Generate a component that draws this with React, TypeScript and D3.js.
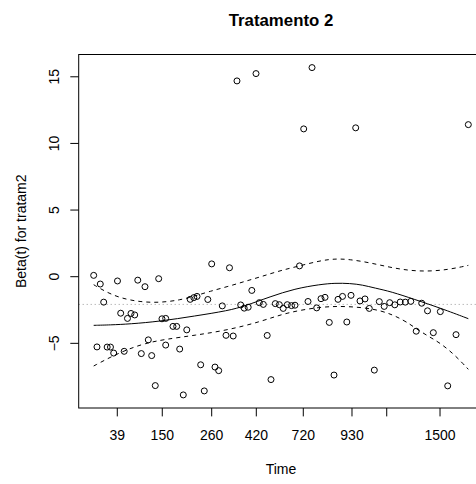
import React from "react";
import * as d3 from "d3";

// Transformed (KM-scale) time, 0..100, and scaled Schoenfeld residuals
const pointT = [
  0, 1.76, 2.67, 6.35, 11.77, 13.69, 17.35,
  0.88, 3.6, 4.48, 5.34, 8.14,
  7.21, 9.02, 9.96, 10.95,
  12.71, 15.48, 14.58, 16.44,
  18.23, 19.22, 19.22, 21.17, 22.16, 22.96, 24.85, 23.92,
  25.76, 26.72, 27.58, 28.56, 29.52, 30.46, 31.5, 32.38, 33.37,
  34.33, 35.32, 36.25, 37.24, 39.24, 40.18, 41.24, 42.21, 44.21, 45.28, 46.32, 47.33,
  48.48, 49.55, 50.59, 51.68, 52.8, 53.74, 54.94,
  56.06, 57.21, 59.53, 60.68, 61.75, 62.89, 64.15, 65.22, 66.42, 67.57, 68.69,
  71.09, 72.42, 73.57, 74.91, 76.24, 77.55, 79.02, 80.38, 81.82, 83.18, 84.65,
  86.09, 87.56, 89.11, 90.66, 92.53, 94.5, 96.72, 100,
  38.25, 43.33, 58.28, 69.94,
];
const pointBeta = [
  0.1, -0.55, -1.91, -0.32, -0.26, -0.75, -0.15,
  -5.27, -5.28, -5.28, -5.73, -5.6,
  -2.74, -3.13, -2.76, -2.87,
  -5.77, -5.92, -4.74, -8.17,
  -3.16, -3.13, -5.13, -3.73, -3.73, -5.43, -3.99, -8.87,
  -1.7, -1.57, -1.48, -6.61, -8.57, -1.71, 0.96, -6.78, -7.05,
  -2.19, -4.4, 0.67, -4.45, -2.12, -2.36, -2.29, -1.03, -1.95, -2.08, -4.41, -7.72,
  -2.02, -2.1, -2.38, -2.1, -2.17, -2.14, 0.81,
  11.09, -1.86, -2.34, -1.65, -1.55, -3.43, -7.38, -1.7, -1.48, -3.4, -1.4,
  -1.82, -1.67, -2.38, -7.01, -1.87, -2.23, -1.95, -2.11, -1.9, -1.91, -1.85,
  -4.09, -1.99, -2.56, -4.2, -2.62, -8.19, -4.35, 11.41,
  14.69, 15.24, 15.69, 11.17,
];

// Smoothed beta(t) fit
const fitT = [0, 4.35, 9.7, 17.7, 27.0, 35.9, 40.4, 47.1, 53.7, 60.4, 64.4, 68.4, 71.8, 75.0, 79.4, 85.6, 92.5, 100];
const fitBeta = [-3.65, -3.62, -3.55, -3.35, -2.95, -2.55, -2.2, -1.5, -0.9, -0.58, -0.48, -0.5, -0.62, -0.85, -1.12, -1.7, -2.35, -3.15];

const upperT = [0, 3.0, 7.0, 12.4, 17.7, 23.1, 27.0, 31.0, 35.9, 40.4, 44.9, 49.7, 54.8, 60.4, 64.4, 68.4, 73.7, 79.1, 84.4, 89.8, 95.1, 100];
const upperBeta = [-0.6, -1.1, -1.6, -1.9, -1.95, -1.75, -1.45, -1.1, -0.73, -0.35, 0.02, 0.45, 0.8, 1.2, 1.35, 1.3, 1.05, 0.7, 0.45, 0.4, 0.55, 0.85];

const lowerT = [0, 4.35, 8.9, 13.7, 19.0, 27.0, 35.9, 44.9, 51.1, 60.4, 67.9, 76.9, 83.1, 85.8, 89.3, 92.5, 96.5, 100];
const lowerBeta = [-6.7, -6.05, -5.47, -5.0, -4.7, -4.4, -4.0, -3.35, -2.72, -2.25, -2.2, -2.47, -3.3, -3.85, -4.47, -4.97, -5.9, -6.95];

const coef = -2.08;

const xTickT = [6.3, 18.31, 31.5, 43.41, 55.95, 68.95, 78.22, 92.45];
const xTickLabels = ["39", "150", "260", "420", "720", "930", "", "1500"];
const yTicks = [-5, 0, 5, 10, 15];

const title = "Tratamento 2";
const xTitle = "Time";
const yTitle = "Beta(t) for tratam2";

const W = 476;
const H = 484;
const plot = { left: 78.7, right: 483.3, top: 54.5, bottom: 408 };
const FONT = "'Liberation Sans', Arial, Helvetica, sans-serif";

function expand(ext: [number, number]): [number, number] {
  const d = (ext[1] - ext[0]) * 0.04;
  return [ext[0] - d, ext[1] + d];
}

export default function App() {
  const allT = [...pointT, ...fitT, ...upperT, ...lowerT];
  const allB = [...pointBeta, ...fitBeta, ...upperBeta, ...lowerBeta];
  const x = d3.scaleLinear().domain(expand(d3.extent(allT) as [number, number])).range([plot.left, plot.right]);
  const y = d3.scaleLinear().domain(expand(d3.extent(allB) as [number, number])).range([plot.bottom, plot.top]);

  const mk = (ts: number[], bs: number[]) =>
    d3
      .line<number>()
      .x((i) => x(ts[i]))
      .y((i) => y(bs[i]))
      .curve(d3.curveBasis)(d3.range(Math.min(ts.length, bs.length))) || "";

  const n = Math.min(pointT.length, pointBeta.length);
  const tick = 8.4;
  const cx = (plot.left + plot.right) / 2;
  const cy = (plot.top + plot.bottom) / 2;

  return (
    <svg width={W} height={H} style={{ position: "absolute", left: 0, top: 0, background: "#fff" }} fontFamily={FONT}>
      <rect x={0} y={0} width={W} height={H} fill="#fff" />
      <text x={cx} y={26} textAnchor="middle" fontSize={16.8} fontWeight="bold">{title}</text>

      {/* coefficient line */}
      <line x1={plot.left} x2={plot.right} y1={y(coef)} y2={y(coef)} stroke="#9a9a9a" strokeDasharray="1,3" />

      {/* fit and bands */}
      <path d={mk(fitT, fitBeta)} fill="none" stroke="#000" strokeWidth={1} />
      <path d={mk(upperT, upperBeta)} fill="none" stroke="#000" strokeWidth={1} strokeDasharray="4,4" />
      <path d={mk(lowerT, lowerBeta)} fill="none" stroke="#000" strokeWidth={1} strokeDasharray="4,4" />

      {/* points */}
      {d3.range(n).map((i) => (
        <circle key={i} cx={x(pointT[i])} cy={y(pointBeta[i])} r={3} fill="none" stroke="#000" strokeWidth={1} />
      ))}

      {/* frame */}
      <rect x={plot.left} y={plot.top} width={plot.right - plot.left} height={plot.bottom - plot.top} fill="none" stroke="#000" strokeWidth={1} />

      {/* x axis */}
      {xTickT.map((t, i) => (
        <g key={"xt" + i}>
          <line x1={x(t)} x2={x(t)} y1={plot.bottom} y2={plot.bottom + tick} stroke="#000" />
          <text x={x(t)} y={439.5} textAnchor="middle" fontSize={14}>{xTickLabels[i]}</text>
        </g>
      ))}
      <text x={cx} y={474} textAnchor="middle" fontSize={14}>{xTitle}</text>

      {/* y axis */}
      {yTicks.map((v) => (
        <g key={"yt" + v}>
          <line x1={plot.left - tick} x2={plot.left} y1={y(v)} y2={y(v)} stroke="#000" />
          <text transform={`translate(58.5,${y(v)}) rotate(-90)`} textAnchor="middle" fontSize={14}>
            {v < 0 ? "\u2212" + Math.abs(v) : String(v)}
          </text>
        </g>
      ))}
      <text transform={`translate(25.5,${cy}) rotate(-90)`} textAnchor="middle" fontSize={14}>{yTitle}</text>
    </svg>
  );
}
